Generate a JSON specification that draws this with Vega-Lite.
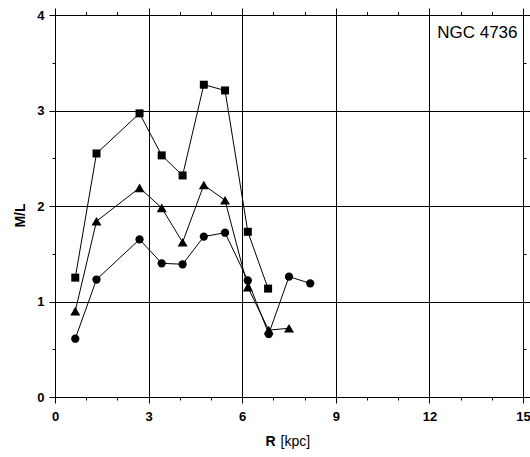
{
  "$schema": "https://vega.github.io/schema/vega-lite/v6.json",
  "width": 468,
  "height": 382,
  "autosize": {"type": "none"},
  "padding": {"left": 55, "top": 15, "right": 7, "bottom": 60},
  "background": "white",
  "config": {
    "view": {"stroke": null},
    "font": "Liberation Sans",
    "axis": {
      "domainColor": "black",
      "domainWidth": 1,
      "tickColor": "black",
      "tickWidth": 1,
      "gridColor": "black",
      "gridWidth": 1,
      "gridOpacity": 1,
      "labelFont": "Liberation Sans",
      "labelFontWeight": "bold",
      "labelFontSize": 13,
      "labelColor": "black",
      "labelFlush": false,
      "labelOverlap": false,
      "labelBound": false,
      "titleFont": "Liberation Sans",
      "titleFontSize": 14,
      "titleFontWeight": "bold",
      "titleColor": "black"
    }
  },
  "data": {
    "values": [
      {"series": "square", "R": 0.65, "ML": 1.25},
      {"series": "square", "R": 1.33, "ML": 2.55},
      {"series": "square", "R": 2.71, "ML": 2.97},
      {"series": "square", "R": 3.42, "ML": 2.53},
      {"series": "square", "R": 4.09, "ML": 2.32},
      {"series": "square", "R": 4.77, "ML": 3.27},
      {"series": "square", "R": 5.45, "ML": 3.21},
      {"series": "square", "R": 6.18, "ML": 1.73},
      {"series": "square", "R": 6.83, "ML": 1.135},
      {"series": "triangle", "R": 0.65, "ML": 0.9},
      {"series": "triangle", "R": 1.33, "ML": 1.84},
      {"series": "triangle", "R": 2.71, "ML": 2.19},
      {"series": "triangle", "R": 3.42, "ML": 1.98},
      {"series": "triangle", "R": 4.09, "ML": 1.62},
      {"series": "triangle", "R": 4.77, "ML": 2.22},
      {"series": "triangle", "R": 5.45, "ML": 2.06},
      {"series": "triangle", "R": 6.18, "ML": 1.15},
      {"series": "triangle", "R": 6.85, "ML": 0.7},
      {"series": "triangle", "R": 7.5, "ML": 0.72},
      {"series": "circle", "R": 0.65, "ML": 0.61},
      {"series": "circle", "R": 1.33, "ML": 1.23},
      {"series": "circle", "R": 2.71, "ML": 1.65},
      {"series": "circle", "R": 3.42, "ML": 1.4},
      {"series": "circle", "R": 4.09, "ML": 1.39},
      {"series": "circle", "R": 4.77, "ML": 1.68},
      {"series": "circle", "R": 5.45, "ML": 1.72},
      {"series": "circle", "R": 6.18, "ML": 1.22},
      {"series": "circle", "R": 6.85, "ML": 0.66},
      {"series": "circle", "R": 7.5, "ML": 1.26},
      {"series": "circle", "R": 8.18, "ML": 1.19}
    ]
  },
  "resolve": {"axis": {"x": "independent", "y": "independent"}},
  "layer": [
    {
      "mark": {"type": "line", "color": "black", "strokeWidth": 1},
      "encoding": {
        "x": {
          "field": "R", "type": "quantitative",
          "scale": {"domain": [0, 15], "nice": false, "zero": false},
          "axis": {
            "orient": "bottom", "values": [0, 3, 6, 9, 12, 15], "tickSize": 6,
            "labelPadding": 7, "grid": true, "title": "R",
            "titleAnchor": "start", "titleAlign": "left", "titleBaseline": "alphabetic",
            "titleX": 210, "titleY": 48
          }
        },
        "y": {
          "field": "ML", "type": "quantitative",
          "scale": {"domain": [0, 4], "nice": false, "zero": false},
          "axis": {
            "orient": "left", "values": [0, 1, 2, 3, 4], "tickSize": 6,
            "labelPadding": 5, "grid": true, "title": "M/L",
            "titleAngle": -90, "titleAlign": "center", "titleBaseline": "alphabetic",
            "titleX": -31, "titleY": 200
          }
        },
        "detail": {"field": "series"},
        "order": {"field": "R"}
      }
    },
    {
      "transform": [{"filter": "datum.series === 'square'"}],
      "mark": {"type": "point", "shape": "square", "filled": true, "color": "black", "size": 64, "opacity": 1},
      "encoding": {
        "x": {
          "field": "R", "type": "quantitative",
          "axis": {
            "orient": "bottom", "values": [0, 1, 2, 3, 4, 5, 6, 7, 8, 9, 10, 11, 12, 13, 14, 15], "tickSize": 3,
            "labels": false, "domain": false, "grid": false, "title": "[kpc]",
            "titleFontWeight": "normal", "titleAnchor": "start", "titleAlign": "left", "titleBaseline": "alphabetic",
            "titleX": 225, "titleY": 48
          }
        },
        "y": {
          "field": "ML", "type": "quantitative",
          "axis": {"orient": "left", "values": [0.5, 1.5, 2.5, 3.5], "tickSize": 3, "labels": false, "domain": false, "grid": false, "title": null}
        }
      }
    },
    {
      "transform": [{"filter": "datum.series === 'triangle'"}],
      "mark": {"type": "point", "shape": "triangle-up", "filled": true, "color": "black", "size": 100, "opacity": 1},
      "encoding": {
        "x": {
          "field": "R", "type": "quantitative",
          "axis": {
            "orient": "top", "values": [0, 3, 6, 9, 12, 15], "tickSize": 7, "labels": false, "domain": true, "grid": false,
            "title": "NGC 4736", "titleFontWeight": "normal", "titleFontSize": 17,
            "titleAnchor": "end", "titleAlign": "right", "titleBaseline": "alphabetic",
            "titleX": 462, "titleY": 22
          }
        },
        "y": {
          "field": "ML", "type": "quantitative",
          "axis": {"orient": "right", "values": [0, 1, 2, 3, 4], "tickSize": 7, "labels": false, "domain": true, "grid": false, "title": null}
        }
      }
    },
    {
      "transform": [{"filter": "datum.series === 'circle'"}],
      "mark": {"type": "point", "shape": "circle", "filled": true, "color": "black", "size": 68, "opacity": 1},
      "encoding": {
        "x": {
          "field": "R", "type": "quantitative",
          "axis": {"orient": "top", "values": [0, 1, 2, 3, 4, 5, 6, 7, 8, 9, 10, 11, 12, 13, 14, 15], "tickSize": 3.5, "labels": false, "domain": false, "grid": false, "title": null}
        },
        "y": {
          "field": "ML", "type": "quantitative",
          "axis": {"orient": "right", "values": [0.5, 1.5, 2.5, 3.5], "tickSize": 3, "labels": false, "domain": false, "grid": false, "title": null}
        }
      }
    }
  ]
}
